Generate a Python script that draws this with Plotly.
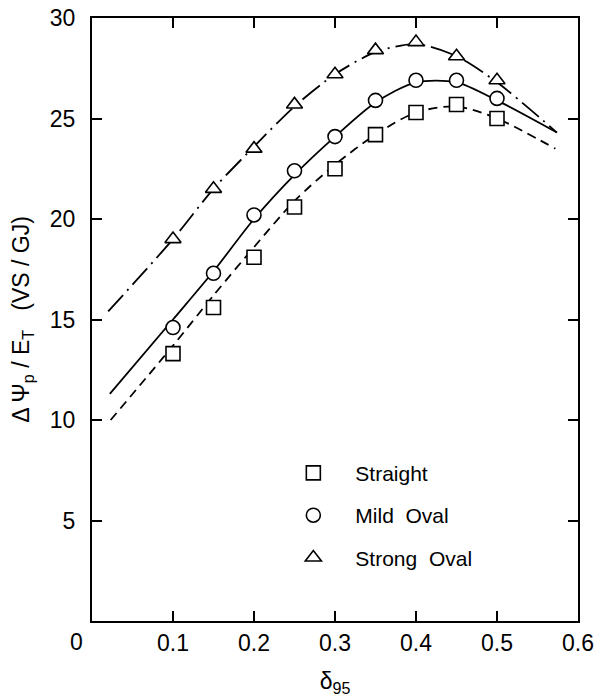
import plotly.graph_objects as go

# Data points
x_pts = [0.10, 0.15, 0.20, 0.25, 0.30, 0.35, 0.40, 0.45, 0.50]
straight = [13.3, 15.6, 18.1, 20.6, 22.5, 24.2, 25.3, 25.7, 25.0]
mild_oval = [14.6, 17.3, 20.2, 22.4, 24.1, 25.9, 26.9, 26.9, 26.0]
strong_oval = [19.0, 21.5, 23.5, 25.7, 27.2, 28.4, 28.8, 28.1, 26.9]

# Fitted curves
x_fit_straight = [0.023, 0.10, 0.15, 0.20, 0.25, 0.30, 0.35, 0.40, 0.45, 0.50, 0.572]
fit_straight = [10.0, 13.7, 16.2, 18.6, 20.9, 22.7, 24.2, 25.3, 25.6, 25.0, 23.5]
x_fit_mild = [0.022, 0.10, 0.15, 0.20, 0.25, 0.30, 0.35, 0.40, 0.45, 0.50, 0.574]
fit_mild = [11.3, 15.0, 17.4, 20.0, 22.2, 24.1, 25.8, 26.8, 26.8, 25.9, 24.3]
x_fit_strong = [0.020, 0.10, 0.15, 0.20, 0.25, 0.30, 0.35, 0.40, 0.45, 0.50, 0.574]
fit_strong = [15.4, 19.0, 21.5, 23.6, 25.6, 27.2, 28.3, 28.7, 28.1, 26.8, 24.3]

x_ticks = [0.1, 0.2, 0.3, 0.4, 0.5, 0.6]
y_ticks = [5, 10, 15, 20, 25, 30]

FONT = "Liberation Sans"
fig = go.Figure()

line_style = dict(color="black", width=1.8, shape="spline", smoothing=0.8)
fig.add_trace(go.Scatter(x=x_fit_straight, y=fit_straight, mode="lines",
                         line=dict(dash="9px,6px", **line_style), showlegend=False))
fig.add_trace(go.Scatter(x=x_fit_mild, y=fit_mild, mode="lines",
                         line=dict(dash="solid", **line_style), showlegend=False))
fig.add_trace(go.Scatter(x=x_fit_strong, y=fit_strong, mode="lines",
                         line=dict(dash="22px,6px,2px,6px", **line_style), showlegend=False))

mk = dict(color="white", size=14, line=dict(color="black", width=1.6))
fig.add_trace(go.Scatter(x=x_pts, y=straight, mode="markers", name="Straight",
                         legendgroup="a", marker=dict(symbol="square", **mk)))
fig.add_trace(go.Scatter(x=x_pts, y=mild_oval, mode="markers", name="Mild  Oval",
                         legendgroup="b", marker=dict(symbol="circle", **mk)))
fig.add_trace(go.Scatter(x=x_pts, y=strong_oval, mode="markers", name="Strong  Oval",
                         legendgroup="c", marker=dict(symbol="triangle-up", **mk)))

axis_common = dict(showgrid=False, zeroline=False, showline=True, linecolor="black",
                   linewidth=2, mirror="ticks", ticks="inside", ticklen=10,
                   tickwidth=1.5, tickcolor="black", automargin=False,
                   tickfont=dict(family=FONT, size=23, color="black"))

fig.update_xaxes(range=[0, 0.6], tickvals=x_ticks, ticktext=[str(v) for v in x_ticks],
                 ticklabelstandoff=0,
                 title=dict(text="δ<sub>95</sub>", font=dict(family=FONT, size=23, color="black"),
                            standoff=22),
                 **axis_common)
fig.update_yaxes(range=[0, 30], tickvals=y_ticks, ticktext=[str(v) for v in y_ticks],
                 ticklabelstandoff=10,
                 title=dict(text="Δ Ψ<sub>p</sub> / E<sub>T</sub>   (VS / GJ)",
                            font=dict(family=FONT, size=23, color="black"), standoff=14),
                 **axis_common)

fig.add_annotation(text="0", xref="paper", yref="paper", x=0, y=0, xshift=-16, yshift=-6,
                   xanchor="center", yanchor="top", showarrow=False,
                   font=dict(family=FONT, size=23, color="black"))

fig.update_layout(
    width=597, height=697,
    margin=dict(l=92, r=19, t=18, b=76),
    paper_bgcolor="white", plot_bgcolor="white",
    legend=dict(x=0.369, y=0.279, xanchor="left", yanchor="top", traceorder="grouped",
                tracegroupgap=12, itemwidth=74, bgcolor="rgba(0,0,0,0)",
                font=dict(family=FONT, size=21, color="black")),
)

fig.write_html("out.html")
